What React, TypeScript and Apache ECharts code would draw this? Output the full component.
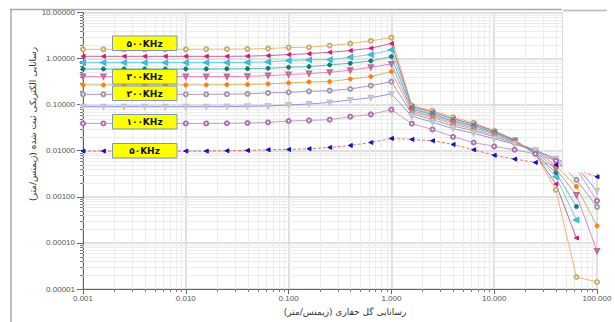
import React, { useEffect, useRef } from "react";
import * as echarts from "echarts";

// Drilling-mud conductivity (S/m), x axis
const X = [0.001, 0.00158, 0.00251, 0.00398, 0.00631, 0.01, 0.0158, 0.0251, 0.0398, 0.0631, 0.1, 0.158, 0.251, 0.398, 0.631, 1, 1.58, 2.51, 3.98, 6.31, 10, 15.8, 25.1, 39.8, 63.1, 100];

// Recorded conductivity per frequency
const S500 = [1.59, 1.59, 1.59, 1.59, 1.59, 1.59, 1.6, 1.6, 1.61, 1.65, 1.73, 1.76, 1.92, 2.12, 2.43, 2.86, 0.095, 0.0741, 0.0535, 0.0406, 0.0272, 0.0173, 0.0086, 0.00142, 0.0000182, 0.0000142];
const S450 = [1.12, 1.12, 1.12, 1.12, 1.12, 1.12, 1.12, 1.12, 1.13, 1.16, 1.22, 1.28, 1.37, 1.49, 1.68, 2.12, 0.0905, 0.0687, 0.0496, 0.0377, 0.0265, 0.0169, 0.0086, 0.00189, 0.000128];
const S400 = [0.818, 0.818, 0.818, 0.818, 0.818, 0.818, 0.818, 0.82, 0.825, 0.848, 0.905, 0.937, 0.95, 1.07, 1.22, 1.55, 0.0839, 0.0637, 0.046, 0.0358, 0.0252, 0.0165, 0.00883, 0.00272, 0.000316];
const S350 = [0.597, 0.597, 0.597, 0.597, 0.597, 0.597, 0.597, 0.6, 0.603, 0.615, 0.647, 0.67, 0.73, 0.791, 0.891, 1.105, 0.0798, 0.0606, 0.0438, 0.0341, 0.0246, 0.0163, 0.00874, 0.00337, 0.000615];
const S300 = [0.406, 0.406, 0.406, 0.406, 0.406, 0.406, 0.406, 0.408, 0.412, 0.427, 0.449, 0.472, 0.504, 0.557, 0.647, 0.767, 0.0741, 0.0562, 0.0406, 0.0316, 0.0234, 0.0157, 0.0095, 0.00406, 0.00109, 0.000067];
const S250 = [0.268, 0.268, 0.268, 0.268, 0.268, 0.268, 0.268, 0.27, 0.273, 0.282, 0.296, 0.311, 0.316, 0.362, 0.406, 0.521, 0.0687, 0.0522, 0.0377, 0.0293, 0.0217, 0.0153, 0.0104, 0.00472, 0.00168, 0.000234];
const S200 = [0.1675, 0.1675, 0.1675, 0.1675, 0.1675, 0.1675, 0.1675, 0.169, 0.172, 0.1796, 0.185, 0.1945, 0.2015, 0.219, 0.259, 0.316, 0.0637, 0.0472, 0.0341, 0.0272, 0.0201, 0.01456, 0.01, 0.00628, 0.00234, 0.000606];
const S150 = [0.0905, 0.0905, 0.0905, 0.0905, 0.0905, 0.0905, 0.0905, 0.091, 0.092, 0.0937, 0.0985, 0.1035, 0.112, 0.1265, 0.142, 0.171, 0.0562, 0.0417, 0.0301, 0.024, 0.0182, 0.0138, 0.01025, 0.0067, 0.00449, 0.00135];
const S100 = [0.0392, 0.0392, 0.0392, 0.0392, 0.0392, 0.0392, 0.0392, 0.0395, 0.04, 0.0412, 0.0442, 0.0456, 0.0472, 0.0548, 0.0615, 0.0778, 0.0386, 0.029, 0.0201, 0.0151, 0.0124, 0.0105, 0.0086, 0.00607, 0.00406, 0.000818];
const S50 = [0.00985, 0.00985, 0.00985, 0.00985, 0.00985, 0.00985, 0.00985, 0.01, 0.01016, 0.0105, 0.01067, 0.01105, 0.0118, 0.01303, 0.01514, 0.0185, 0.0176, 0.0165, 0.0137, 0.0105, 0.00798, 0.0066, 0.00557, 0.00496, 0.00386, 0.00272];

const X_DECADES = [0.001, 0.01, 0.1, 1, 10];
const Y_DECADES = [0.00001, 0.0001, 0.001, 0.01, 0.1, 1];
const MINOR_STEPS = [2, 3, 4, 5, 6, 7, 8, 9];

const LABELS = ["۵۰۰KHz", "۳۰۰KHz", "۲۰۰KHz", "۱۰۰KHz", "۵۰KHz"];
const Y_NAME = "رسانایی الکتریکی ثبت شده (زیمنس/متر)";
const X_NAME = "رسانایی گل حفاری (زیمنس/متر)";

const X_MIN = 0.001, X_MAX = 100, Y_MIN = 0.00001, Y_MAX = 10;

const DEFS = [
  { name: "500", data: S500, line: "#f5a660", marker: "#c4b06a", symbol: "emptyCircle", rotate: 0 },
  { name: "450", data: S450, line: "#b05080", marker: "#e0127c", symbol: "triangle", rotate: 90 },
  { name: "400", data: S400, line: "#5ccbd8", marker: "#3cb8d0", symbol: "emptyTriangle", rotate: 90 },
  { name: "350", data: S350, line: "#3fb3b3", marker: "#0d7f70", symbol: "circle", rotate: 0 },
  { name: "300", data: S300, line: "#e070c4", marker: "#c06898", symbol: "emptyTriangle", rotate: 180 },
  { name: "250", data: S250, line: "#b8b050", marker: "#ff7f10", symbol: "circle", rotate: 0 },
  { name: "200", data: S200, line: "#a383b5", marker: "#a098a8", symbol: "emptyCircle", rotate: 0 },
  { name: "150", data: S150, line: "#8080f0", marker: "#c4c4c4", symbol: "emptyTriangle", rotate: 180 },
  { name: "100", data: S100, line: "#b892b8", marker: "#b070b0", symbol: "emptyCircle", rotate: 0 },
  { name: "50", data: S50, line: "#ff5050", marker: "#1414c0", symbol: "triangle", rotate: 90, dashed: true },
];

export default function App() {
  const ref = useRef<HTMLDivElement>(null);
  useEffect(() => {
    if (!ref.current) return;
    const chart = echarts.init(ref.current, null, { renderer: "svg" });

    const xMinor: number[] = [];
    X_DECADES.forEach((d) => MINOR_STEPS.forEach((m) => xMinor.push(d * m)));
    const yMinor: number[] = [];
    Y_DECADES.forEach((d) => MINOR_STEPS.forEach((m) => yMinor.push(d * m)));

    const lineSeries = DEFS.map((d) => ({
      type: "line",
      name: d.name,
      data: d.data.map((v, i) => [X[i], v]),
      symbol: d.symbol,
      symbolSize: 4,
      symbolRotate: d.rotate,
      showSymbol: true,
      z: 3,
      lineStyle: { color: d.line, width: 1, type: d.dashed ? [3, 2] : "solid", opacity: 0.85 },
      itemStyle: { color: d.marker, borderColor: d.marker, borderWidth: 1 },
    }));

    const gridX = {
      type: "custom",
      silent: true,
      z: 1,
      data: xMinor.map((v) => [v, 1]),
      encode: { x: 0, y: 1 },
      renderItem: (params: any, api: any) => {
        const v = api.value(0);
        const t = api.coord([v, Y_MAX]);
        const b = api.coord([v, Y_MIN]);
        const x = Math.round(t[0]) + 0.5;
        return {
          type: "group",
          children: [
            { type: "line", shape: { x1: x, y1: t[1], x2: x, y2: b[1] }, style: { stroke: "#ececec", lineWidth: 1 } },
            { type: "line", shape: { x1: x, y1: b[1], x2: x, y2: b[1] + 3 }, style: { stroke: "#777", lineWidth: 1 } },
          ],
        };
      },
    };
    const gridY = {
      type: "custom",
      silent: true,
      z: 1,
      data: yMinor.map((v) => [1, v]),
      encode: { x: 0, y: 1 },
      renderItem: (params: any, api: any) => {
        const v = api.value(1);
        const l = api.coord([X_MIN, v]);
        const r = api.coord([X_MAX, v]);
        const y = Math.round(l[1]) + 0.5;
        return {
          type: "group",
          children: [
            { type: "line", shape: { x1: l[0], y1: y, x2: r[0], y2: y }, style: { stroke: "#ececec", lineWidth: 1 } },
            { type: "line", shape: { x1: l[0] - 3, y1: y, x2: l[0], y2: y }, style: { stroke: "#777", lineWidth: 1 } },
          ],
        };
      },
    };

    const boxTops = [36, 69.5, 86, 114.5, 143.5];
    const labelGraphics = LABELS.map((t, i) => ({
      type: "group",
      z: 50,
      x: 112.5,
      y: boxTops[i],
      children: [
        { type: "rect", z: 50, shape: { x: 0, y: 0, width: 64.5, height: 14.5 }, style: { fill: "#ffff00", stroke: "#7f97b0", lineWidth: 1 } },
        { type: "text", z: 51, x: 32, y: 7.5, style: { text: t, fill: "#111", fontSize: 9, fontWeight: "bold", fontFamily: "DejaVu Sans", align: "center", verticalAlign: "middle" } },
      ],
    }));

    chart.setOption({
      animation: false,
      backgroundColor: "#ffffff",
      grid: { left: 83, right: 18, top: 12.5, bottom: 33, containLabel: false, outerBoundsMode: "none" },
      xAxis: {
        type: "log",
        logBase: 10,
        min: X_MIN,
        max: X_MAX,
        splitNumber: 5,
        axisLine: { show: true, onZero: false, lineStyle: { color: "#666", width: 1 } },
        axisTick: { show: true, length: 5, lineStyle: { color: "#666" } },
        axisLabel: { formatter: (v: number) => Number(v).toFixed(3), color: "#555", fontSize: 8, fontFamily: "Liberation Sans", margin: 5 },
        splitLine: { show: true, lineStyle: { color: "#d6d6d6", width: 1.5 } },
      },
      yAxis: {
        type: "log",
        logBase: 10,
        min: Y_MIN,
        max: Y_MAX,
        splitNumber: 6,
        axisLine: { show: true, onZero: false, lineStyle: { color: "#666", width: 1 } },
        axisTick: { show: true, length: 6, lineStyle: { color: "#666" } },
        axisLabel: { formatter: (v: number) => Number(v).toFixed(5), color: "#555", fontSize: 8, fontFamily: "Liberation Sans", margin: 8 },
        splitLine: { show: true, lineStyle: { color: "#d6d6d6", width: 1.5 } },
      },
      series: [gridX, gridY, ...lineSeries],
      graphic: [
        { type: "line", z: 100, shape: { x1: 10, y1: 9.5, x2: 562, y2: 9.5 }, style: { stroke: "#a8a8a8", lineWidth: 1.5 } },
        { type: "line", z: 100, shape: { x1: 11, y1: 9, x2: 11, y2: 322 }, style: { stroke: "#a8a8a8", lineWidth: 1.5 } },
        { type: "rect", z: 90, shape: { x: 562.5, y: 11, width: 50, height: 161.5 }, style: { fill: "#ffffff" } },
        { type: "line", z: 100, shape: { x1: 562.5, y1: 12, x2: 562.5, y2: 170 }, style: { stroke: "#dcdcdc", lineWidth: 1 } },
        { type: "line", z: 100, shape: { x1: 563, y1: 10.5, x2: 607, y2: 10.5 }, style: { stroke: "#b8b8b8", lineWidth: 1.5 } },
        ...labelGraphics,
        { type: "text", z: 100, x: 33, y: 124, rotation: Math.PI / 2, style: { text: Y_NAME, fill: "#333", fontSize: 9, fontFamily: "DejaVu Sans", align: "center", verticalAlign: "middle" } },
        { type: "text", z: 100, x: 345, y: 311.5, style: { text: X_NAME, fill: "#333", fontSize: 9, fontFamily: "DejaVu Sans", align: "center", verticalAlign: "middle" } },
      ],
    });
    return () => chart.dispose();
  }, []);
  return <div ref={ref} style={{ position: "absolute", left: 0, top: 0, width: 615, height: 322 }} />;
}
